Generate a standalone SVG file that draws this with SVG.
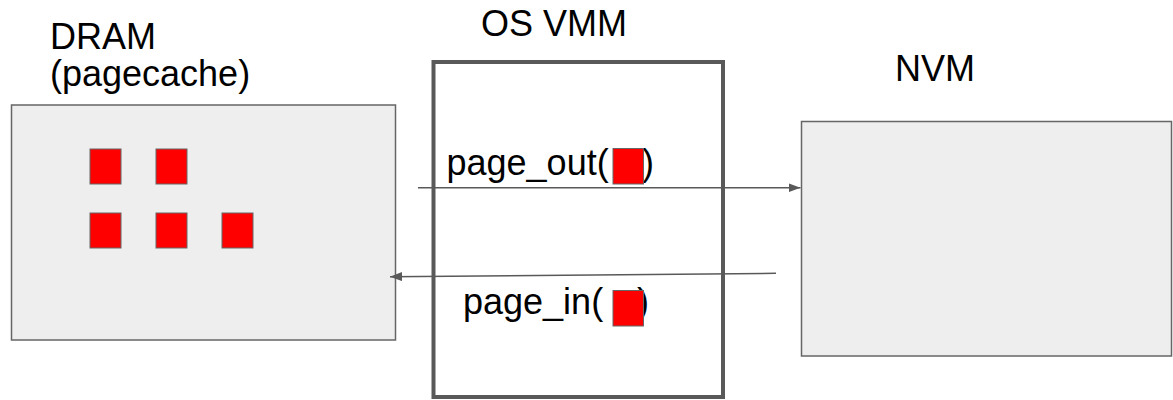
<svg xmlns="http://www.w3.org/2000/svg" width="1173" height="400" viewBox="0 0 1173 400">
  <style>
    .lbl { font-family: "Liberation Sans", Arial, sans-serif; font-size: 36px; fill: #000; }
    .store { fill: #eeeeee; stroke: #666666; stroke-width: 1.5; }
    .page { fill: #ff0000; stroke: #666666; stroke-width: 1; }
    .vmm { fill: #ffffff; stroke: #595959; stroke-width: 4; }
    .wire { fill: none; stroke: #595959; stroke-width: 1.5; }
  </style>
  <defs>
    <marker id="head" viewBox="0 0 12 9" refX="12" refY="4.5" markerWidth="12" markerHeight="9" markerUnits="userSpaceOnUse" orient="auto">
      <path d="M0,0 L12,4.5 L0,9 Z" fill="#595959"/>
    </marker>
  </defs>
  <rect width="1173" height="400" fill="#ffffff"/>

  <!-- page cache in DRAM -->
  <g id="dram">
    <text class="lbl" x="50" y="49">DRAM</text>
    <text class="lbl" x="50" y="86">(pagecache)</text>
    <rect class="store" x="11.5" y="105" width="384" height="235"/>
    <rect class="page" x="90" y="149" width="31" height="35"/>
    <rect class="page" x="156" y="149" width="31" height="35"/>
    <rect class="page" x="90" y="213" width="31" height="35"/>
    <rect class="page" x="156" y="213" width="31" height="35"/>
    <rect class="page" x="222" y="213" width="31" height="35"/>
  </g>

  <!-- non-volatile memory -->
  <g id="nvm">
    <text class="lbl" x="895" y="81">NVM</text>
    <rect class="store" x="801.5" y="121.5" width="370" height="234.5"/>
  </g>

  <!-- virtual memory manager -->
  <g id="vmm">
    <text class="lbl" x="481" y="36">OS VMM</text>
    <rect class="vmm" x="433.5" y="62" width="289.5" height="335"/>
  </g>

  <g id="connectors">
    <line class="wire" x1="418" y1="187.7" x2="800.5" y2="187.7" marker-end="url(#head)"/>
    <line class="wire" x1="776" y1="273.3" x2="390" y2="276.7" marker-end="url(#head)"/>
  </g>

  <g id="page-out">
    <text class="lbl" x="446.5" y="175">page_out(<tspan x="642">)</tspan></text>
    <rect class="page" x="613" y="148.5" width="30.5" height="35.5"/>
  </g>

  <g id="page-in">
    <text class="lbl" x="463" y="314">page_in(<tspan x="637">)</tspan></text>
    <rect class="page" x="613" y="290.5" width="30.5" height="35.5"/>
  </g>
</svg>
